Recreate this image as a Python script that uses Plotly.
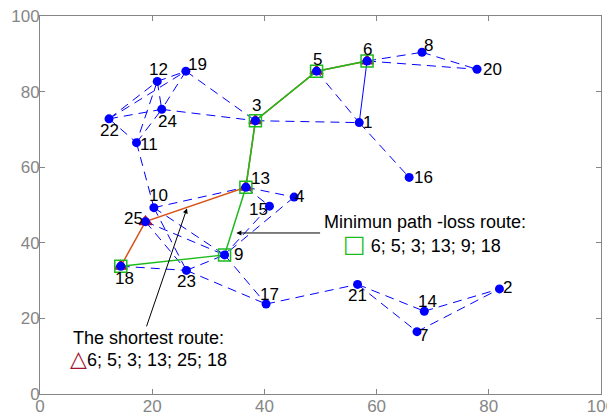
import plotly.graph_objects as go

# Node coordinates (node id 1..25)
node_ids = list(range(1, 26))
node_x = [56.9, 81.9, 38.4, 45.3, 49.3, 58.3, 67.2, 68.1, 32.9, 20.3,
          17.2, 20.9, 36.7, 68.5, 40.9, 65.8, 40.3, 14.4, 26.0, 77.9,
          56.6, 12.3, 26.1, 21.7, 18.8]
node_y = [71.8, 27.8, 72.3, 52.1, 85.4, 88.1, 16.5, 90.4, 36.8, 49.3,
          66.5, 82.7, 54.7, 21.9, 49.7, 57.3, 23.8, 33.8, 85.4, 85.9,
          29.0, 72.8, 32.7, 75.3, 45.6]
# label offsets in pixels (dx, dy screen-down positive) -- styling only
label_dx = [8, 8, 1, 5, 1, 0, 7, 6, 14, 5,
            13, 1, 15, 3, -11, 14, 3, 4, 12, 15,
            0, 0, 0, 6, -12]
label_dy = [0, -1, -15, -1, -12, -11, 4, -7, 0, -12,
            2, -12, -9, -10, 3, 0, -10, 12, -7, 0,
            11, 12, 11, 12, -3]

# Dashed links
links = [(22, 12), (22, 19), (22, 24), (22, 11), (12, 19), (12, 24), (12, 11), (19, 24),
         (11, 24), (19, 3), (24, 3), (3, 1), (5, 1), (6, 8), (6, 20), (8, 20), (1, 16),
         (11, 10), (10, 13), (10, 9), (10, 23), (25, 9), (25, 23), (13, 4), (13, 15),
         (15, 9), (4, 9), (9, 17), (18, 23), (23, 9), (23, 17), (17, 21), (21, 14),
         (21, 7), (14, 2), (7, 2)]
solid_links = [(6, 1)]

shortest_route = [6, 5, 3, 13, 25, 18]
minloss_route = [6, 5, 3, 13, 9, 18]

def xy(i):
    return node_x[i - 1], node_y[i - 1]

def seg_trace(pairs):
    xs, ys = [], []
    for a, b in pairs:
        xa, ya = xy(a)
        xb, yb = xy(b)
        xs += [xa, xb, None]
        ys += [ya, yb, None]
    return xs, ys

BLUE = "#0000FF"
GREEN = "#1DBB1D"
RED = "#D95319"
DARKRED = "#A2142F"
GRAY = "#868686"
FONT = "Liberation Sans, Arial"

fig = go.Figure()

lx, ly = seg_trace(links)
fig.add_trace(go.Scatter(x=lx, y=ly, mode="lines",
                         line=dict(color=BLUE, width=1, dash="9px,6px"),
                         hoverinfo="skip", showlegend=False))
sx, sy = seg_trace(solid_links)
fig.add_trace(go.Scatter(x=sx, y=sy, mode="lines",
                         line=dict(color=BLUE, width=1),
                         hoverinfo="skip", showlegend=False))

# shortest route (red)
fig.add_trace(go.Scatter(x=[xy(n)[0] for n in shortest_route],
                         y=[xy(n)[1] for n in shortest_route],
                         mode="lines+markers",
                         line=dict(color=RED, width=1.5),
                         marker=dict(symbol="triangle-up", size=11, color=RED,
                                     line=dict(color=DARKRED, width=1.5)),
                         showlegend=False))
# min path-loss route (green)
fig.add_trace(go.Scatter(x=[xy(n)[0] for n in minloss_route],
                         y=[xy(n)[1] for n in minloss_route],
                         mode="lines+markers",
                         line=dict(color=GREEN, width=1.5),
                         marker=dict(symbol="square-open", size=12, color=GREEN,
                                     line=dict(color=GREEN, width=1.5)),
                         showlegend=False))

# nodes
fig.add_trace(go.Scatter(x=node_x, y=node_y, mode="markers",
                         marker=dict(symbol="circle", size=9, color=BLUE),
                         showlegend=False))

for i, nid in enumerate(node_ids):
    fig.add_annotation(x=node_x[i], y=node_y[i], xref="x", yref="y",
                       text=str(nid), showarrow=False,
                       xanchor="center", yanchor="middle",
                       xshift=label_dx[i], yshift=-label_dy[i],
                       font=dict(family=FONT, size=17, color="black"))

# arrows
fig.add_annotation(x=35.0, y=42.6, ax=50.2, ay=42.6, axref="x", ayref="y", xref="x", yref="y",
                   showarrow=True, arrowhead=2, arrowsize=1, arrowwidth=1, arrowcolor="black",
                   text="")
fig.add_annotation(x=26.2, y=49.1, ax=18.9, ay=17.5, axref="x", ayref="y", xref="x", yref="y",
                   showarrow=True, arrowhead=2, arrowsize=1, arrowwidth=1, arrowcolor="black",
                   text="")

afont = dict(family=FONT, size=18, color="black")
fig.add_annotation(x=50.3, y=45.5, xref="x", yref="y", xanchor="left", yanchor="middle",
                   text="Minimun path -loss route:", showarrow=False, font=afont)
fig.add_annotation(x=53.6, y=39.7, xref="x", yref="y", xanchor="left", yanchor="middle",
                   text="<span style='color:%s;font-size:24px;font-family:DejaVu Sans'>□</span> 6; 5; 3; 13; 9; 18" % GREEN,
                   showarrow=False, font=afont)
fig.add_annotation(x=5.5, y=14.8, xref="x", yref="y", xanchor="left", yanchor="middle",
                   text="The shortest route:", showarrow=False, font=afont)
fig.add_annotation(x=5.0, y=9.3, xref="x", yref="y", xanchor="left", yanchor="middle",
                   text="<span style='color:%s;font-size:22px;font-family:DejaVu Sans'>△</span>6; 5; 3; 13; 25; 18" % DARKRED,
                   showarrow=False, font=afont)

axis_common = dict(range=[0, 100], tickvals=[0, 20, 40, 60, 80, 100],
                   showgrid=False, zeroline=False, showline=True, linecolor=GRAY,
                   linewidth=1, mirror="ticks", ticks="inside", ticklen=5, tickcolor=GRAY,
                   automargin=False, ticklabeloverflow="allow",
                   tickfont=dict(family=FONT, size=17, color=GRAY))

fig.update_layout(width=607, height=409,
                  margin=dict(l=32, r=14, t=8, b=23),
                  plot_bgcolor="white", paper_bgcolor="white",
                  xaxis=dict(axis_common, ticklabelstandoff=-3),
                  yaxis=dict(axis_common, ticklabelstandoff=-4))

fig.write_html("out.html")
